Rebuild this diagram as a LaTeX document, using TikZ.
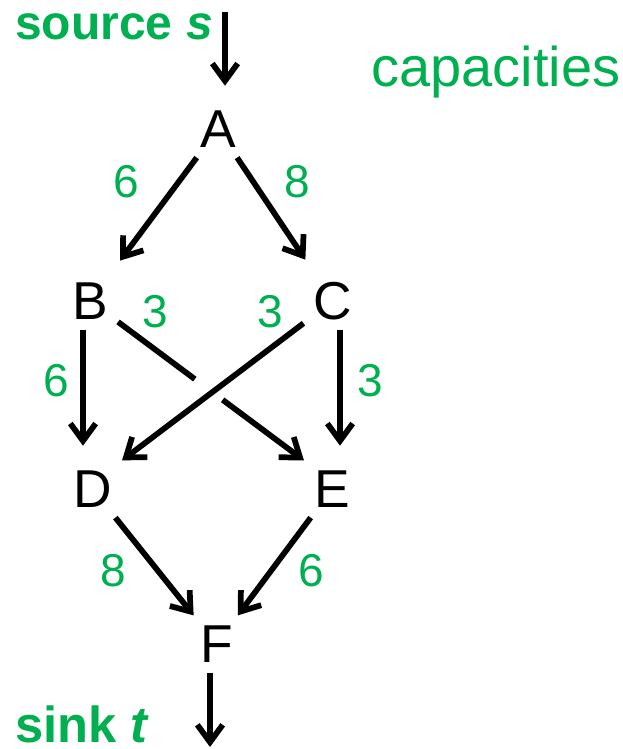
\documentclass[tikz,border=0pt]{standalone}
\usepackage{fontspec}
\setmainfont{Liberation Sans}
\usetikzlibrary{arrows.meta,calc}
\definecolor{capgreen}{RGB}{0,176,80}

\begin{document}
\begin{tikzpicture}[x=0.75pt,y=-0.75pt,
    vertex/.style={font=\fontsize{40}{48}\selectfont, inner sep=7.5pt},
    capnum/.style={text=capgreen, font=\fontsize{34.5}{40}\selectfont, inner sep=0pt},
    flow/.style={line width=4.3pt, -{Straight Barb[length=13pt,width=19pt]}},
    short/.style={shorten >=11pt}]

    \useasboundingbox (0,0) rectangle (622,749);

    % vertices
    \node[vertex] (A) at (218,129)   {A};
    \node[vertex] (B) at (90,301)    {B};
    \node[vertex] (C) at (333,301)   {C};
    \node[vertex] (D) at (92.5,489)  {D};
    \node[vertex] (E) at (332,489)   {E};
    \node[vertex] (F) at (216.5,644) {F};

    % green texts
    \node[anchor=base west, inner sep=0pt, text=capgreen, font=\bfseries\fontsize{36}{43}\selectfont] (srclabel) at (15,40) {source \textit{s}};
    \node[anchor=base west, inner sep=0pt, text=capgreen, font=\bfseries\fontsize{38}{45}\selectfont] (snklabel) at (15,742) {sink \textit{t}};
    \node[anchor=base west, inner sep=0pt, text=capgreen, font=\fontsize{42}{50}\selectfont] (captitle) at (371,87) {capacities};

    % capacities on the edges
    \foreach \n/\x/\y/\c in {cAB/126.5/181.5/6, cAC/297.5/181.5/8, cBE/155/312/3, cCD/270/312/3,
                             cBD/56/381/6, cCE/370/381/3, cDF/113.5/571/8, cEF/311.5/571/6}
        \node[capnum] (\n) at (\x,\y) {\c};

    % source and sink
    \coordinate (src) at (225,12);
    \coordinate (snk) at (210,747);
    \draw[flow, short] (src) -- (src |- A.north);
    \draw[flow] (snk |- F.south) -- (snk);

    % edges
    \draw[flow, short] (A) -- (B);
    \draw[flow, short] (A) -- (C);
    \draw[flow, short] ([xshift=-5.25pt]B.south) -- ([xshift=-5.25pt]B.south |- D.north);
    \draw[flow, short] ([xshift=5.25pt]C.south) -- ([xshift=5.25pt]C.south |- E.north);
    \draw[line width=4.3pt] (B) -- ($(B)!0.49!(E.north west)$);
    \draw[flow] ($(B)!0.62!(E.north west)$) -- (E.north west);
    \draw[flow] (C) -- (D.north east);
    \draw[flow] (D) -- (F);
    \draw[flow] (E) -- (F);

\end{tikzpicture}
\end{document}
